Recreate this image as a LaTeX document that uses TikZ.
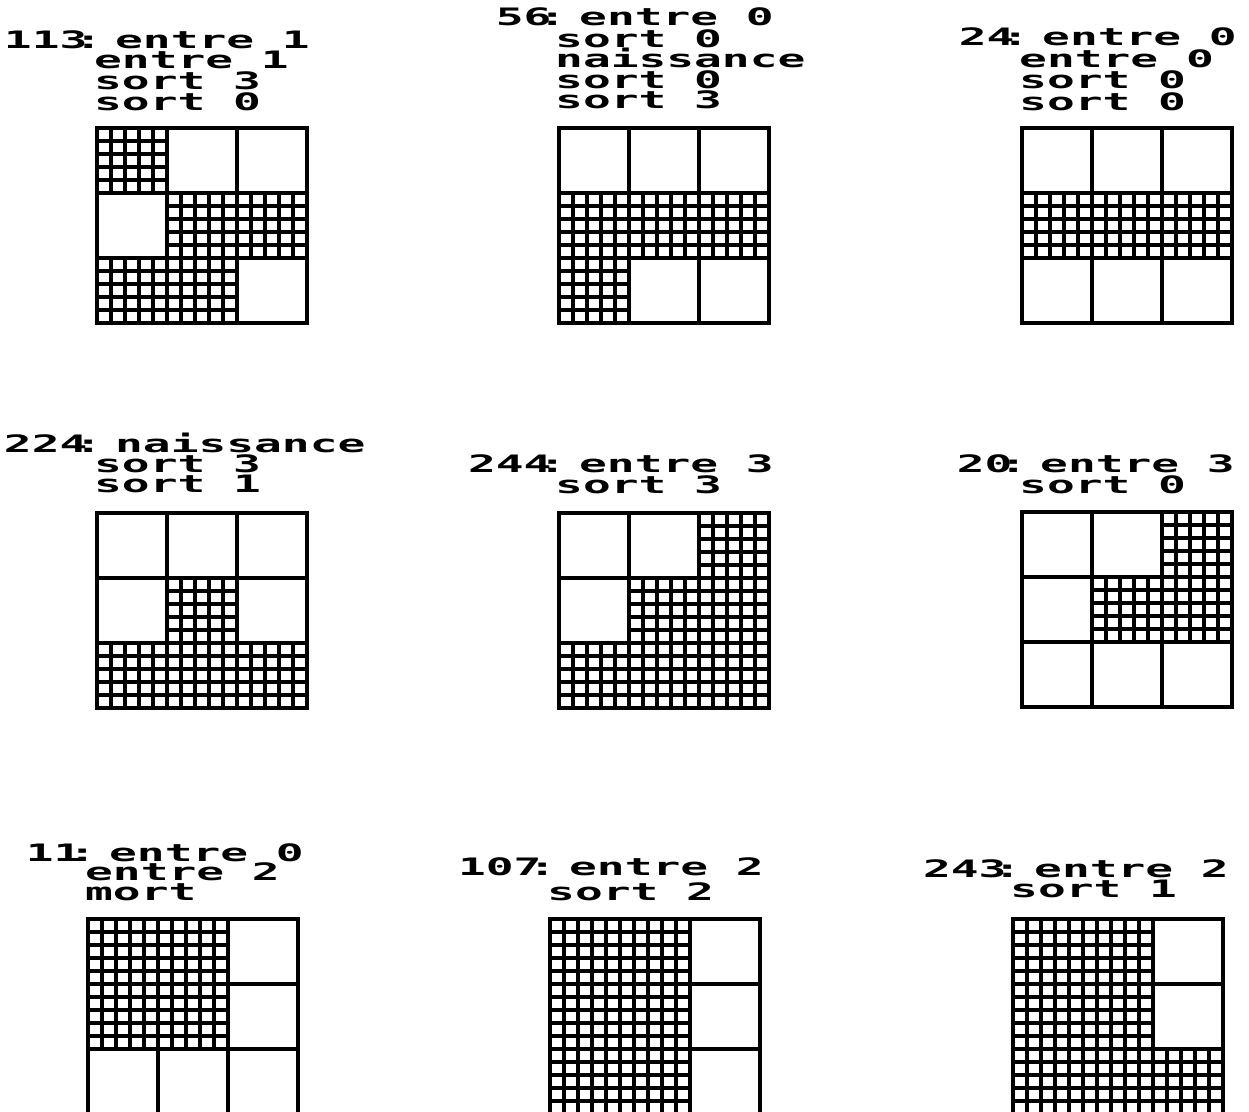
\documentclass[tikz,border=0pt]{standalone}
\usepackage{fontspec}
\newfontfamily\plotfont[FakeStretch=1.924]{DejaVu Sans Mono}
\newcommand\colk{\kern-13pt:\kern13pt}
\newcommand\grille[3]{%
  \foreach \c/\r in {#3} {
    \foreach \i in {1,...,4} {
      \draw[sub] ({#1+70*\c+14*\i},{#2+65*\r}) -- ++(0,65);
      \draw[sub] ({#1+70*\c},{#2+65*\r+13*\i}) -- ++(70,0);
    }
  }
  \foreach \i in {0,...,3} {
    \draw[mainline] ({#1+70*\i},#2) -- ++(0,195);
    \draw[mainline] (#1,{#2+65*\i}) -- ++(210,0);
  }
}
\begin{document}
\begin{tikzpicture}[x=1pt,y=-1pt,
  lbl/.style={anchor=base west, inner sep=0pt, text height=16pt, text depth=0pt,
    font=\plotfont\bfseries\fontsize{24}{24}\selectfont},
  mainline/.style={line width=3.2pt, line cap=rect},
  sub/.style={line width=3.2pt, line cap=butt}]
\useasboundingbox (0,0) rectangle (1249,1111);
\fill[white] (0,0) rectangle (1249,1111);
\begin{scope}
\clip (0,0) rectangle (1249,1111);
% panel 1
\node[lbl] (t1a) at (115,48) {\llap{113\colk}entre 1};
\node[lbl] (t1b) at (94,68) {entre 1};
\node[lbl] (t1c) at (94,89) {sort 3};
\node[lbl] (t1d) at (94,110) {sort 0};
\grille{97}{128}{0/0,1/1,2/1,0/2,1/2}
% panel 2
\node[lbl] (t2a) at (579,25) {\llap{56\colk}entre 0};
\node[lbl] (t2b) at (555,47) {sort 0};
\node[lbl] (t2c) at (555,67) {naissance};
\node[lbl] (t2d) at (555,88) {sort 0};
\node[lbl] (t2e) at (555,108) {sort 3};
\grille{559}{128}{0/1,1/1,2/1,0/2}
% panel 3
\node[lbl] (t3a) at (1042,45) {\llap{24\colk}entre 0};
\node[lbl] (t3b) at (1019,67) {entre 0};
\node[lbl] (t3c) at (1019,88) {sort 0};
\node[lbl] (t3d) at (1019,110) {sort 0};
\grille{1022}{128}{0/1,1/1,2/1}
% panel 4
\node[lbl] (t4a) at (115,452) {\llap{224\colk}naissance};
\node[lbl] (t4b) at (94,472) {sort 3};
\node[lbl] (t4c) at (94,492) {sort 1};
\grille{97}{513}{1/1,0/2,1/2,2/2}
% panel 5
\node[lbl] (t5a) at (579,472) {\llap{244\colk}entre 3};
\node[lbl] (t5b) at (555,493) {sort 3};
\grille{559}{513}{2/0,1/1,2/1,0/2,1/2,2/2}
% panel 6
\node[lbl] (t6a) at (1040,472) {\llap{20\colk}entre 3};
\node[lbl] (t6b) at (1019,493) {sort 0};
\grille{1022}{512}{2/0,1/1,2/1}
% panel 7
\node[lbl] (t7a) at (109,861) {\llap{11\colk}entre 0};
\node[lbl] (t7b) at (85,880) {entre 2};
\node[lbl] (t7c) at (85,900) {mort};
\grille{88}{919}{0/0,1/0,0/1,1/1}
% panel 8
\node[lbl] (t8a) at (569,875) {\llap{107\colk}entre 2};
\node[lbl] (t8b) at (547,900) {sort 2};
\grille{550}{919}{0/0,1/0,0/1,1/1,0/2,1/2}
% panel 9
\node[lbl] (t9a) at (1034,877) {\llap{243\colk}entre 2};
\node[lbl] (t9b) at (1010,897) {sort 1};
\grille{1013}{919}{0/0,1/0,0/1,1/1,0/2,1/2,2/2}
\end{scope}
\end{tikzpicture}
\end{document}
